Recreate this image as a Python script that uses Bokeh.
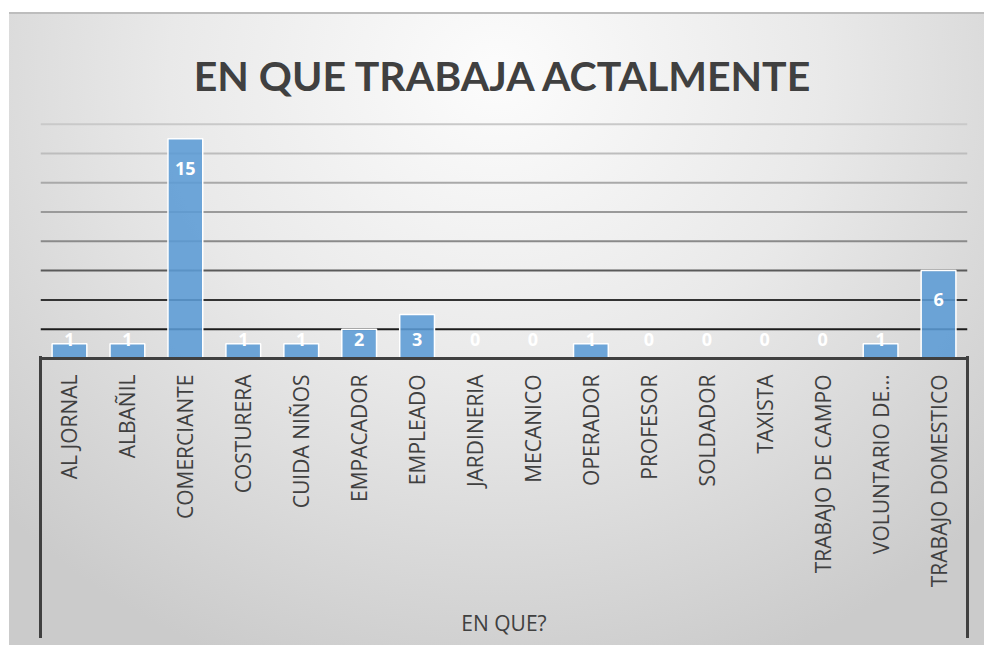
import numpy as np
from bokeh.plotting import figure
from bokeh.models import ColumnDataSource, FactorRange, Range1d, Span
from bokeh.core.properties import value
from bokeh.embed import file_html
from bokeh.resources import INLINE

# ---- data ----
categories = ["AL JORNAL", "ALBAÑIL", "COMERCIANTE", "COSTURERA", "CUIDA NIÑOS",
              "EMPACADOR", "EMPLEADO", "JARDINERIA", "MECANICO", "OPERADOR",
              "PROFESOR", "SOLDADOR", "TAXISTA", "TRABAJO DE CAMPO",
              "VOLUNTARIO DE…", "TRABAJO DOMESTICO"]
counts = [1, 1, 15, 1, 1, 2, 3, 0, 0, 1, 0, 0, 0, 0, 1, 6]
grid_levels = [2, 4, 6, 8, 10, 12, 14, 16]
grid_colors = ["#1c1c1c", "#333333", "#5a5a5a", "#8a8a8a",
               "#9a9a9a", "#a9a9a9", "#bdbdbd", "#c9c9c9"]
title_text = "EN QUE TRABAJA ACTALMENTE"
axis_title = "EN QUE?"

W, H = 975, 633

vals = np.array(counts, dtype=float)
src = ColumnDataSource(dict(
    cat=categories,
    val=counts,
    label=[str(c) for c in counts],
    label_y=np.maximum(vals - 2.0, 1.3),
))

p = figure(width=W, height=H, output_backend="svg", toolbar_location=None,
           x_range=FactorRange(*categories, range_padding=0),
           y_range=Range1d(0, 16.25),
           min_border_left=31, min_border_right=17,
           min_border_top=108, min_border_bottom=287)

# chart-area decoration: gradient backdrop, top rule, and the two vertical
# sides of the category-axis box (pure CSS, no data involved)
p.styles = {
    "margin-left": "9px",
    "margin-top": "12px",
    "box-shadow": "inset 0 2px 0 #bdbdbd",
    "background-image": ", ".join([
        "linear-gradient(#404040, #404040)",
        "linear-gradient(#404040, #404040)",
        "radial-gradient(ellipse 70% 100% at 50% 10%, #fcfcfc 0%, #e9e9e9 48%, #cbcbcb 100%)",
    ]),
    "background-size": "3px 282px, 3px 282px, 100% 100%",
    "background-position": "29.5px 344px, 956.5px 344px, 0 0",
    "background-repeat": "no-repeat",
}
p.background_fill_alpha = 0
p.border_fill_alpha = 0
p.outline_line_color = None

# title
p.title.text = title_text
p.title.align = "center"
p.title.text_font = "Lato"
p.title.text_font_style = "bold"
p.title.text_font_size = "41px"
p.title.text_color = "#404040"
p.title.standoff = 42

# gridlines (darkening towards bottom)
p.xgrid.visible = False
p.ygrid.visible = False
for lvl, col in zip(grid_levels, grid_colors):
    p.add_layout(Span(location=lvl, dimension="width", line_color=col,
                      line_width=2, level="underlay"))

# bars
p.vbar(x="cat", top="val", bottom=0, width=0.6, source=src,
       fill_color="#5b9bd5", fill_alpha=0.88, line_color="white", line_width=1.5)

# labels
p.text(x="cat", y="label_y", text="label", source=src,
       text_color="white", text_font=value("Open Sans"), text_font_style="bold",
       text_font_size="18px", text_align="center", text_baseline="middle")

# axes
p.yaxis.visible = False
ax = p.xaxis[0]
ax.axis_line_color = "#404040"
ax.axis_line_width = 3
ax.major_tick_line_color = None
ax.minor_tick_line_color = None
ax.major_label_orientation = np.pi / 2
ax.major_label_text_font = "Open Sans"
ax.major_label_text_font_size = "21px"
ax.major_label_text_color = "#404040"
ax.major_label_standoff = 10
ax.axis_label = axis_title
ax.axis_label_text_font = "Open Sans"
ax.axis_label_text_font_size = "21px"
ax.axis_label_text_font_style = "normal"
ax.axis_label_text_color = "#404040"
ax.axis_label_standoff = 19

open("out.html", "w").write(file_html(p, INLINE))
